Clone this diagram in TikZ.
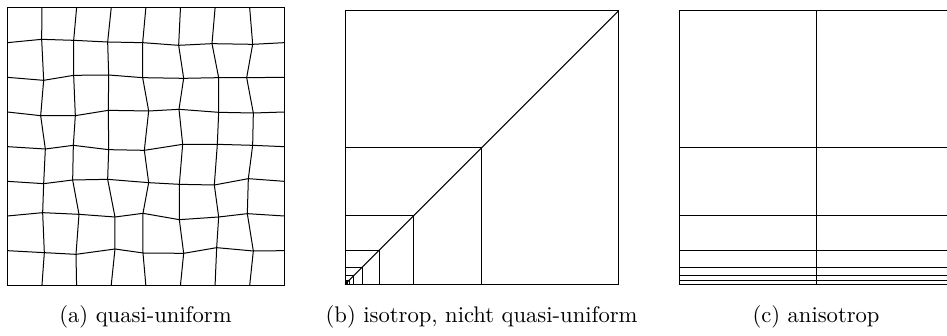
\documentclass[tikz,border=0pt]{standalone}
\usepackage{graphicx}
\tikzset{
  meshline/.style={line width=1pt, black},
  captext/.style={anchor=base, inner sep=0pt}
}
\newcommand{\capscale}[1]{\scalebox{2.26}{\normalsize #1}}
\begin{document}
\begin{tikzpicture}[x=1pt,y=-1pt]
\useasboundingbox (0,0) rectangle (947,336);
% ---------- (a) quasi-uniform mesh ----------
\begin{scope}[x=1pt/3,y=-1pt/3]
  \foreach \k in {0,...,8} {
    \coordinate (q-\k-0) at ({22+103.875*\k},24);
    \coordinate (q-\k-8) at ({22+103.875*\k},856);
    \coordinate (q-0-\k) at (22,{24+104*\k});
    \coordinate (q-8-\k) at (853,{24+104*\k});
  }
  \foreach \c/\r/\x/\y in {
    1/1/125/118, 2/1/221/121, 3/1/323/126, 4/1/428/128, 5/1/536/136, 6/1/636/131, 7/1/758/133,
    1/2/131/241, 2/2/221/226, 3/2/326/225, 4/2/428/233, 5/2/551/235, 6/2/656/233, 7/2/740/233,
    1/3/122/347, 2/3/226/347, 3/3/325/331, 4/3/446/333, 5/3/537/328, 6/3/656/337, 7/3/760/339,
    1/4/136/447, 2/4/220/436, 3/4/326/449, 4/4/433/451, 5/4/548/433, 6/4/652/433, 7/4/758/436,
    1/5/131/551, 2/5/218/540, 3/5/323/538, 4/5/446/548, 5/5/538/553, 6/5/643/555, 7/5/745/536,
    1/6/128/638, 2/6/237/643, 3/6/345/651, 4/6/429/640, 5/6/538/659, 6/6/656/651, 7/6/742/641,
    1/7/133/758, 2/7/228/763, 3/7/345/747, 4/7/429/759, 5/7/551/760, 6/7/650/743, 7/7/760/753}
    \coordinate (q-\c-\r) at (\x,\y);
  \foreach \r in {1,...,7}
    \draw[meshline] (q-0-\r) \foreach \c in {1,...,8} { -- (q-\c-\r) };
  \foreach \c in {1,...,7}
    \draw[meshline] (q-\c-0) \foreach \r in {1,...,8} { -- (q-\c-\r) };
  \draw[meshline] (q-0-0) rectangle (q-8-8);
\end{scope}
% ---------- (b) isotropic, graded towards corner ----------
\coordinate (bBL) at (345,284.3);
\coordinate (bTR) at (618.3,11);
\draw[meshline] (bBL) rectangle (bTR);
\draw[meshline] (bBL) -- (bTR);
\foreach \k in {1,...,10} {
  \pgfmathsetmacro{\s}{273.3/(2^\k)}
  \draw[meshline] ([yshift=\s pt]bBL) -- ([xshift=\s pt,yshift=\s pt]bBL) -- ([xshift=\s pt]bBL);
}
\fill ([yshift=3pt]bBL) rectangle ([xshift=3pt]bBL);
% ---------- (c) anisotropic ----------
\begin{scope}
  \clip (0,0) rectangle (947,336);
  \coordinate (cBL) at (679.3,284.3);
  \coordinate (cTR) at (952.6,11);
  \draw[meshline] (cBL) rectangle (cTR);
  \draw[meshline] (816,11) -- (816,284.3);
  \foreach \k in {1,...,6} {
    \pgfmathsetmacro{\s}{273.3/(2^\k)}
    \draw[meshline] ([yshift=\s pt]cBL) -- ([yshift=\s pt]cBL -| cTR);
  }
\end{scope}
% ---------- captions ----------
\node[captext] (capa) at (145.5,323) {\capscale{(a) quasi-uniform}};
\node[captext] (capb) at (481.6,323) {\capscale{(b) isotrop, nicht quasi-uniform}};
\node[captext] (capc) at (816,323) {\capscale{(c) anisotrop}};
\end{tikzpicture}
\end{document}
